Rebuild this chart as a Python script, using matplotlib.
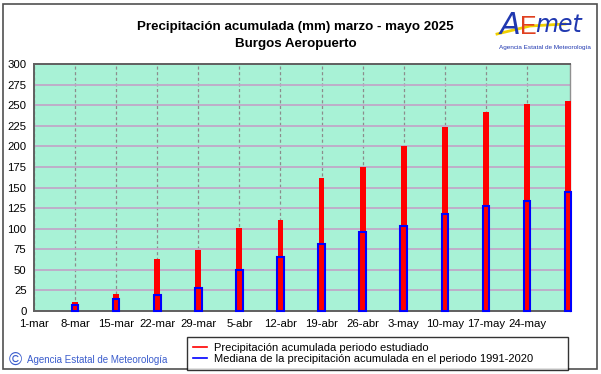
import matplotlib
matplotlib.use("Agg")
import matplotlib.pyplot as plt
import pandas as pd
from matplotlib.patches import Rectangle

# datos
fechas = ["2025-03-08", "2025-03-15", "2025-03-22", "2025-03-29", "2025-04-05",
          "2025-04-12", "2025-04-19", "2025-04-26", "2025-05-03", "2025-05-10",
          "2025-05-17", "2025-05-24", "2025-05-31"]
acumulada = [11, 21, 63, 74, 101, 111, 162, 175, 201, 223, 242, 252, 255]
mediana = [7, 15, 20, 28, 50, 66, 81, 96, 103, 118, 128, 134, 144]
etiquetas_x = ["1-mar", "8-mar", "15-mar", "22-mar", "29-mar", "5-abr", "12-abr",
               "19-abr", "26-abr", "3-may", "10-may", "17-may", "24-may"]
ticks_y = [0, 25, 50, 75, 100, 125, 150, 175, 200, 225, 250, 275, 300]

titulo = "Precipitación acumulada (mm) marzo - mayo 2025"
estacion = "Burgos Aeropuerto"
leyenda = ["Precipitación acumulada periodo estudiado",
           "Mediana de la precipitación acumulada en el periodo 1991-2020"]

plt.rcParams["font.family"] = ["Liberation Sans", "DejaVu Sans"]

x = pd.to_datetime(fechas)
inicio = pd.Timestamp("2025-03-01")
fin = pd.Timestamp("2025-05-31")
tick_pos = pd.date_range(inicio, periods=len(etiquetas_x), freq="7D")

fig = plt.figure(figsize=(6.01, 3.74), dpi=100)
ax = fig.add_axes([33.5 / 601, 1 - 311 / 374, (569.5 - 33.5) / 601, (311 - 64) / 374])
ax.set_facecolor("#a8f2d6")

ax.bar(x, acumulada, width=1.0, color="#ff0000", zorder=3, clip_on=False)
ax.bar(x, mediana, width=1.12, facecolor="none", edgecolor="#0000ff",
       linewidth=1.5, zorder=4, clip_on=False)

ax.set_xlim(inicio - pd.Timedelta(hours=2), fin + pd.Timedelta(hours=6))
ax.set_ylim(0, 300)
ax.set_yticks(ticks_y)
ax.set_xticks(tick_pos)
ax.set_xticklabels(etiquetas_x)
ax.tick_params(axis="both", length=0, labelsize=8.2)
ax.tick_params(axis="x", pad=6)
ax.tick_params(axis="y", pad=5)

ax.yaxis.grid(True, color="#c0a8c8", linewidth=1.3, zorder=1)
ax.xaxis.grid(True, color="#8c8c8c", linewidth=0.9, linestyle=(0, (2.5, 2)), zorder=1)
ax.set_axisbelow(True)
for lado in ["left", "bottom", "top"]:
    ax.spines[lado].set_color("#606060")
    ax.spines[lado].set_linewidth(1.4)
ax.spines["right"].set_color("#909090")
ax.spines["right"].set_linewidth(1)

fig.text(295 / 601, 1 - 27 / 374, titulo, ha="center", va="center",
         fontsize=9.6, fontweight="bold")
fig.text(296 / 601, 1 - 44 / 374, estacion, ha="center", va="center",
         fontsize=9.6, fontweight="bold")

# leyenda
h1 = plt.Line2D([], [], color="#ff0000", linewidth=1.2)
h2 = plt.Line2D([], [], color="#0000ff", linewidth=1.2)
leg = fig.legend([h1, h2], leyenda, loc="upper left",
                 bbox_to_anchor=(187 / 601, 1 - 367 / 374, (568 - 187) / 601, 30 / 374),
                 mode="expand", fontsize=8, frameon=True, fancybox=False,
                 borderpad=0.5, labelspacing=0.15, handlelength=1.3,
                 handletextpad=0.6, borderaxespad=0)
leg.get_frame().set_edgecolor("black")
leg.get_frame().set_linewidth(1)

# copyright
fig.text(9 / 601, 1 - 360 / 374, "©", color="#3a5ccc", fontsize=13,
         ha="left", va="center")
fig.text(27 / 601, 1 - 360 / 374, "Agencia Estatal de Meteorología", color="#3a5ccc",
         fontsize=7.0, ha="left", va="center")

# logo aproximado
fig.text(500 / 601, 1 - 26 / 374, "A", color="#2038b0", fontsize=22,
         style="italic", ha="left", va="center", family=["DejaVu Sans"])
fig.text(520 / 601, 1 - 27 / 374, "E", color="#e04020", fontsize=18,
         ha="left", va="center")
fig.text(535 / 601, 1 - 25 / 374, "met", color="#2038b0", fontsize=17,
         style="italic", ha="left", va="center", family=["DejaVu Sans"])
fig.add_artist(plt.Line2D([497 / 601, 530 / 601, 565 / 601],
                          [1 - 34 / 374, 1 - 26 / 374, 1 - 24 / 374],
                          color="#f0d000", linewidth=2, transform=fig.transFigure))
fig.text(545 / 601, 1 - 47 / 374, "Agencia Estatal de Meteorología", color="#2038b0",
         fontsize=4.6, ha="center", va="center")

# marco de la figura
fig.add_artist(Rectangle((3 / 601, 1 - 369 / 374), 594 / 601, 365 / 374,
                         transform=fig.transFigure, fill=False,
                         edgecolor="#505050", linewidth=1.2))

fig.savefig("out.png", dpi=100)
